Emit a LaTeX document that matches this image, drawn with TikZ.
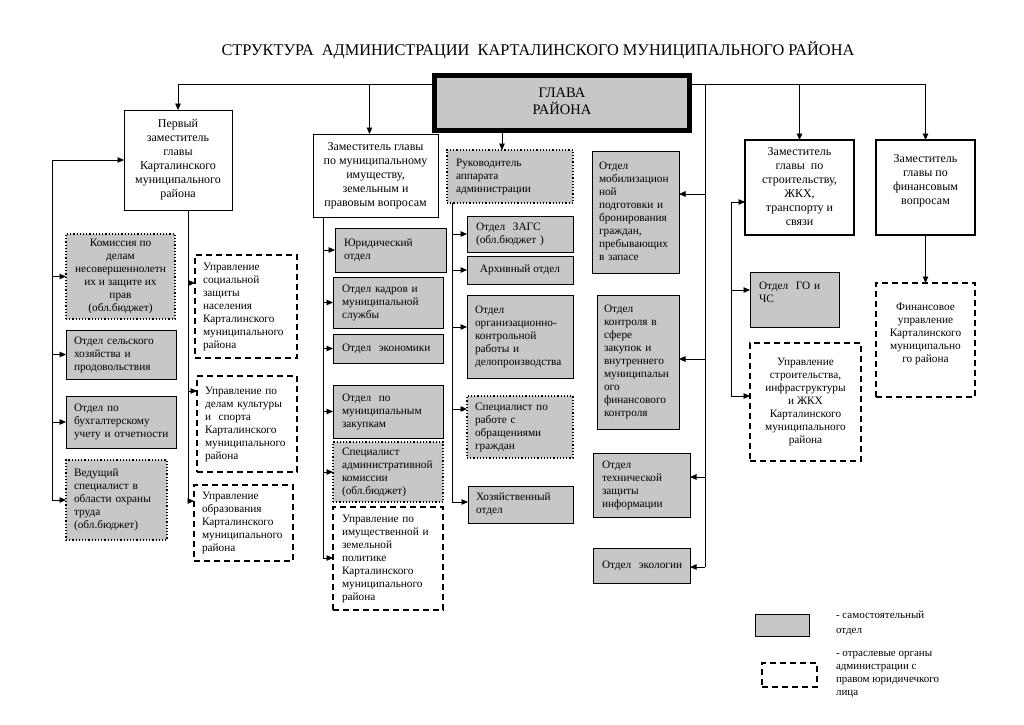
\documentclass[tikz,border=0pt]{standalone}
\usepackage{fontspec}
\setmainfont{Liberation Serif}
\usetikzlibrary{arrows.meta}
\tikzset{
  base/.style={anchor=north west, inner sep=0pt, outer sep=0pt, font=\fontsize{11.3}{13}\selectfont},
  gbox/.style={base, draw, line width=0.9pt, fill=black!22},
  dbox/.style={base, draw, line width=1.2pt, dotted, fill=black!22},
  hbox/.style={base, draw, line width=1.7pt, dash pattern=on 6pt off 4pt, fill=white},
  wbox/.style={base, draw, line width=0.9pt, fill=white, font=\fontsize{12}{14}\selectfont},
  tbox/.style={wbox, line width=2pt},
  glava/.style={base, draw, line width=5pt, outer sep=2.5pt, fill=black!22, font=\fontsize{14.5}{16}\selectfont},
  arr/.style={-{Triangle[length=6.5pt,width=5.5pt]}, line width=0.9pt},
  ln/.style={line width=0.9pt},
}
\newcommand\lbox[8]{\node[#2, minimum width={(#5-#3)*1pt}, minimum height={(#6-#4)*1pt}, text width={(#5-#3-2*#7)*1pt}, align=left] (#1) at (#3,#4) {\begin{tabular}{@{}l@{}}#8\end{tabular}};}
\newcommand\cbox[7]{\node[#2, minimum width={(#5-#3)*1pt}, minimum height={(#6-#4)*1pt}] (#1) at (#3,#4) {\begin{tabular}{@{}c@{}}#7\end{tabular}};}
\begin{document}
\begin{tikzpicture}[x=1pt,y=-1pt]
\useasboundingbox (0,0) rectangle (1024,724);
\fill[white] (0,0) rectangle (1024,724);
\node[font=\fontsize{16.3}{19}\selectfont] (title) at (538,50) {СТРУКТУРА\ \ АДМИНИСТРАЦИИ\ \ КАРТАЛИНСКОГО МУНИЦИПАЛЬНОГО РАЙОНА};

\cbox{gl}{glava}{432}{73}{687}{128}{ГЛАВА\\РАЙОНА}

% left branch
\cbox{p1}{wbox}{124}{110}{232}{210}{Первый\\заместитель\\главы\\Карталинского\\муниципального\\района}
\cbox{kom}{dbox}{66}{234}{175}{319}{Комиссия по\\делам\\несовершеннолетн\\их и защите их\\прав\\(обл.бюджет)}
\lbox{sel}{gbox}{66}{330}{176}{379}{8}{Отдел сельского\\хозяйства и\\продовольствия}
\lbox{buh}{gbox}{66}{396}{176}{448}{8}{Отдел по\\бухгалтерскому\\учету и отчетности}
\lbox{ved}{dbox}{66}{460}{167}{540}{8}{Ведущий\\специалист в\\области охраны\\труда\\(обл.бюджет)}
\lbox{soc}{hbox}{195}{255}{297}{358}{8}{Управление\\социальной\\защиты\\населения\\Карталинского\\муниципального\\района}
\lbox{kul}{hbox}{197}{376}{297}{472}{8}{Управление по\\делам культуры\\и\ \ спорта\\Карталинского\\муниципального\\района}
\lbox{obr}{hbox}{194}{485}{293}{561}{8}{Управление\\образования\\Карталинского\\муниципального\\района}

% property deputy
\cbox{z1}{wbox}{313}{134}{438}{217}{Заместитель главы\\по муниципальному\\имуществу,\\земельным и\\правовым вопросам}
\lbox{yur}{gbox}{335}{228}{446}{272}{9}{Юридический\\отдел}
\lbox{kad}{gbox}{333}{277}{443}{328}{9}{Отдел кадров и\\муниципальной\\службы}
\lbox{eko}{gbox}{333}{334}{443}{363}{9}{Отдел\ \ экономики}
\lbox{zak}{gbox}{333}{385}{443}{438}{9}{Отдел\ \ по\\муниципальным\\закупкам}
\lbox{sad}{dbox}{333}{442}{443}{502}{9}{Специалист\\административной\\комиссии\\(обл.бюджет)}
\lbox{uim}{hbox}{333}{507}{443}{610}{9}{Управление по\\имущественной и\\земельной\\политике\\Карталинского\\муниципального\\района}

% apparatus
\lbox{ruk}{dbox}{447}{150}{573}{203}{9}{Руководитель\\аппарата\\администрации}
\lbox{zags}{gbox}{467}{216}{573}{252}{9}{Отдел\ \ ЗАГС\\(обл.бюджет )}
\cbox{arh}{gbox}{467}{256}{573}{284}{Архивный отдел}
\lbox{org}{gbox}{467}{295}{573}{378}{8}{Отдел\\организационно-\\контрольной\\работы и\\делопроизводства}
\lbox{spr}{dbox}{467}{396}{573}{458}{8}{Специалист по\\работе с\\обращениями\\граждан}
\lbox{hoz}{gbox}{468}{486}{573}{523}{8}{Хозяйственный\\отдел}

% column under head
\lbox{mob}{gbox}{592}{151}{679}{273}{7}{Отдел\\мобилизацион\\ной\\подготовки и\\бронирования\\граждан,\\пребывающих\\в запасе}
\lbox{kon}{gbox}{597}{295}{679}{429}{7}{Отдел\\контроля в\\сфере\\закупок и\\внутреннего\\муниципальн\\ого\\финансового\\контроля}
\lbox{teh}{gbox}{593}{453}{690}{517}{9}{Отдел\\технической\\защиты\\информации}
\lbox{eco}{gbox}{593}{548}{690}{583}{9}{Отдел\ \ экологии}

% right deputies
\cbox{zs}{tbox}{745}{140}{854}{235}{Заместитель\\главы\ \ по\\строительству,\\ЖКХ,\\транспорту и\\связи}
\cbox{zf}{tbox}{876}{140}{975}{235}{Заместитель\\главы по\\финансовым\\вопросам\\~}
\lbox{go}{gbox}{750}{272}{839}{327}{9}{Отдел\ \ ГО и\\ЧС\\~}
\cbox{ust}{hbox}{750}{343}{861}{461}{Управление\\строительства,\\инфраструктуры\\и ЖКХ\\Карталинского\\муниципального\\района}
\cbox{fu}{hbox}{876}{283}{975}{397}{Финансовое\\управление\\Карталинского\\муниципально\\го района\\~}

% legend
\node[gbox, minimum width=54pt, minimum height=22pt] (lg1) at (755,614) {};
\node[hbox, minimum width=55pt, minimum height=24pt] (lg2) at (762,663) {};
\node[base, font=\fontsize{11}{15}\selectfont] (lt1) at (836,608) {\begin{tabular}{@{}l@{}}- самостоятельный\\отдел\end{tabular}};
\node[base, font=\fontsize{11}{13}\selectfont] (lt2) at (836,647) {\begin{tabular}{@{}l@{}}- отраслевые органы\\администрации с\\правом юридичечкого\\лица\end{tabular}};

% connectors from head
\draw[arr] ([yshift=-11pt]gl.north west) -| (p1.north);
\draw[arr] ([yshift=-11pt]gl.north west) -| ([xshift=-6pt]z1.north);
\draw[arr] ([yshift=-11pt]gl.north east) -| (zs.north);
\draw[arr] ([yshift=-11pt]gl.north east) -| (zf.north);
\draw[arr] (gl.south -| 502,0) -- (ruk.north -| 502,0);

% right vertical line under head
\coordinate (rt) at (705,84);
\coordinate (rb) at (705,567);
\draw[ln] (rt) -- (rb);
\draw[arr] (rt |- 0,194) -- (mob.east |- 0,194);
\draw[arr] (rt |- 0,359) -- (kon.east |- 0,359);
\draw[arr] (rt |- 0,477) -- (teh.east |- 0,477);
\draw[arr] (rb) -- (eco.east |- rb);

% left line
\coordinate (lt) at (52,160);
\coordinate (lb) at (52,500);
\draw[arr] (lb) -- (lt) -- (p1.west);
\draw[arr] (lt |- kom.west) -- (kom.west);
\draw[arr] (lt |- sel.west) -- (sel.west);
\draw[arr] (lt |- buh.west) -- (buh.west);
\draw[arr] (lb) -- (ved.west |- lb);

% first deputy down line
\coordinate (pb) at (188,501);
\draw[ln] (p1.south -| pb) -- (pb);
\draw[arr] (pb |- 0,283) -- (soc.west |- 0,283);
\draw[arr] (pb |- 0,391) -- (kul.west |- 0,391);
\draw[arr] (pb) -- (obr.west |- pb);

% property deputy line
\coordinate (zb) at (323,558);
\draw[ln] (z1.south -| zb) -- (zb);
\draw[arr] (zb |- yur.west) -- (yur.west);
\draw[arr] (zb |- kad.west) -- (kad.west);
\draw[arr] (zb |- eko.west) -- (eko.west);
\draw[arr] (zb |- zak.west) -- (zak.west);
\draw[arr] (zb |- sad.west) -- (sad.west);
\draw[arr] (zb) -- (uim.west |- zb);

% apparatus line
\coordinate (kb) at (452,502);
\draw[ln] (ruk.south -| kb) -- (kb);
\draw[arr] (kb |- zags.west) -- (zags.west);
\draw[arr] (kb |- arh.west) -- (arh.west);
\draw[arr] (kb |- 0,327) -- (org.west |- 0,327);
\draw[arr] (kb |- 0,409) -- (spr.west |- 0,409);
\draw[arr] (kb) -- (hoz.west |- kb);

% construction deputy line
\coordinate (st) at (731,202);
\coordinate (sb) at (731,396);
\draw[arr] (sb) -- (st) -- (zs.west |- st);
\draw[arr] (st |- 0,290) -- (go.west |- 0,290);
\draw[arr] (sb) -- (ust.west |- sb);

% finance
\draw[arr] (zf.south) -- (fu.north);
\end{tikzpicture}
\end{document}
